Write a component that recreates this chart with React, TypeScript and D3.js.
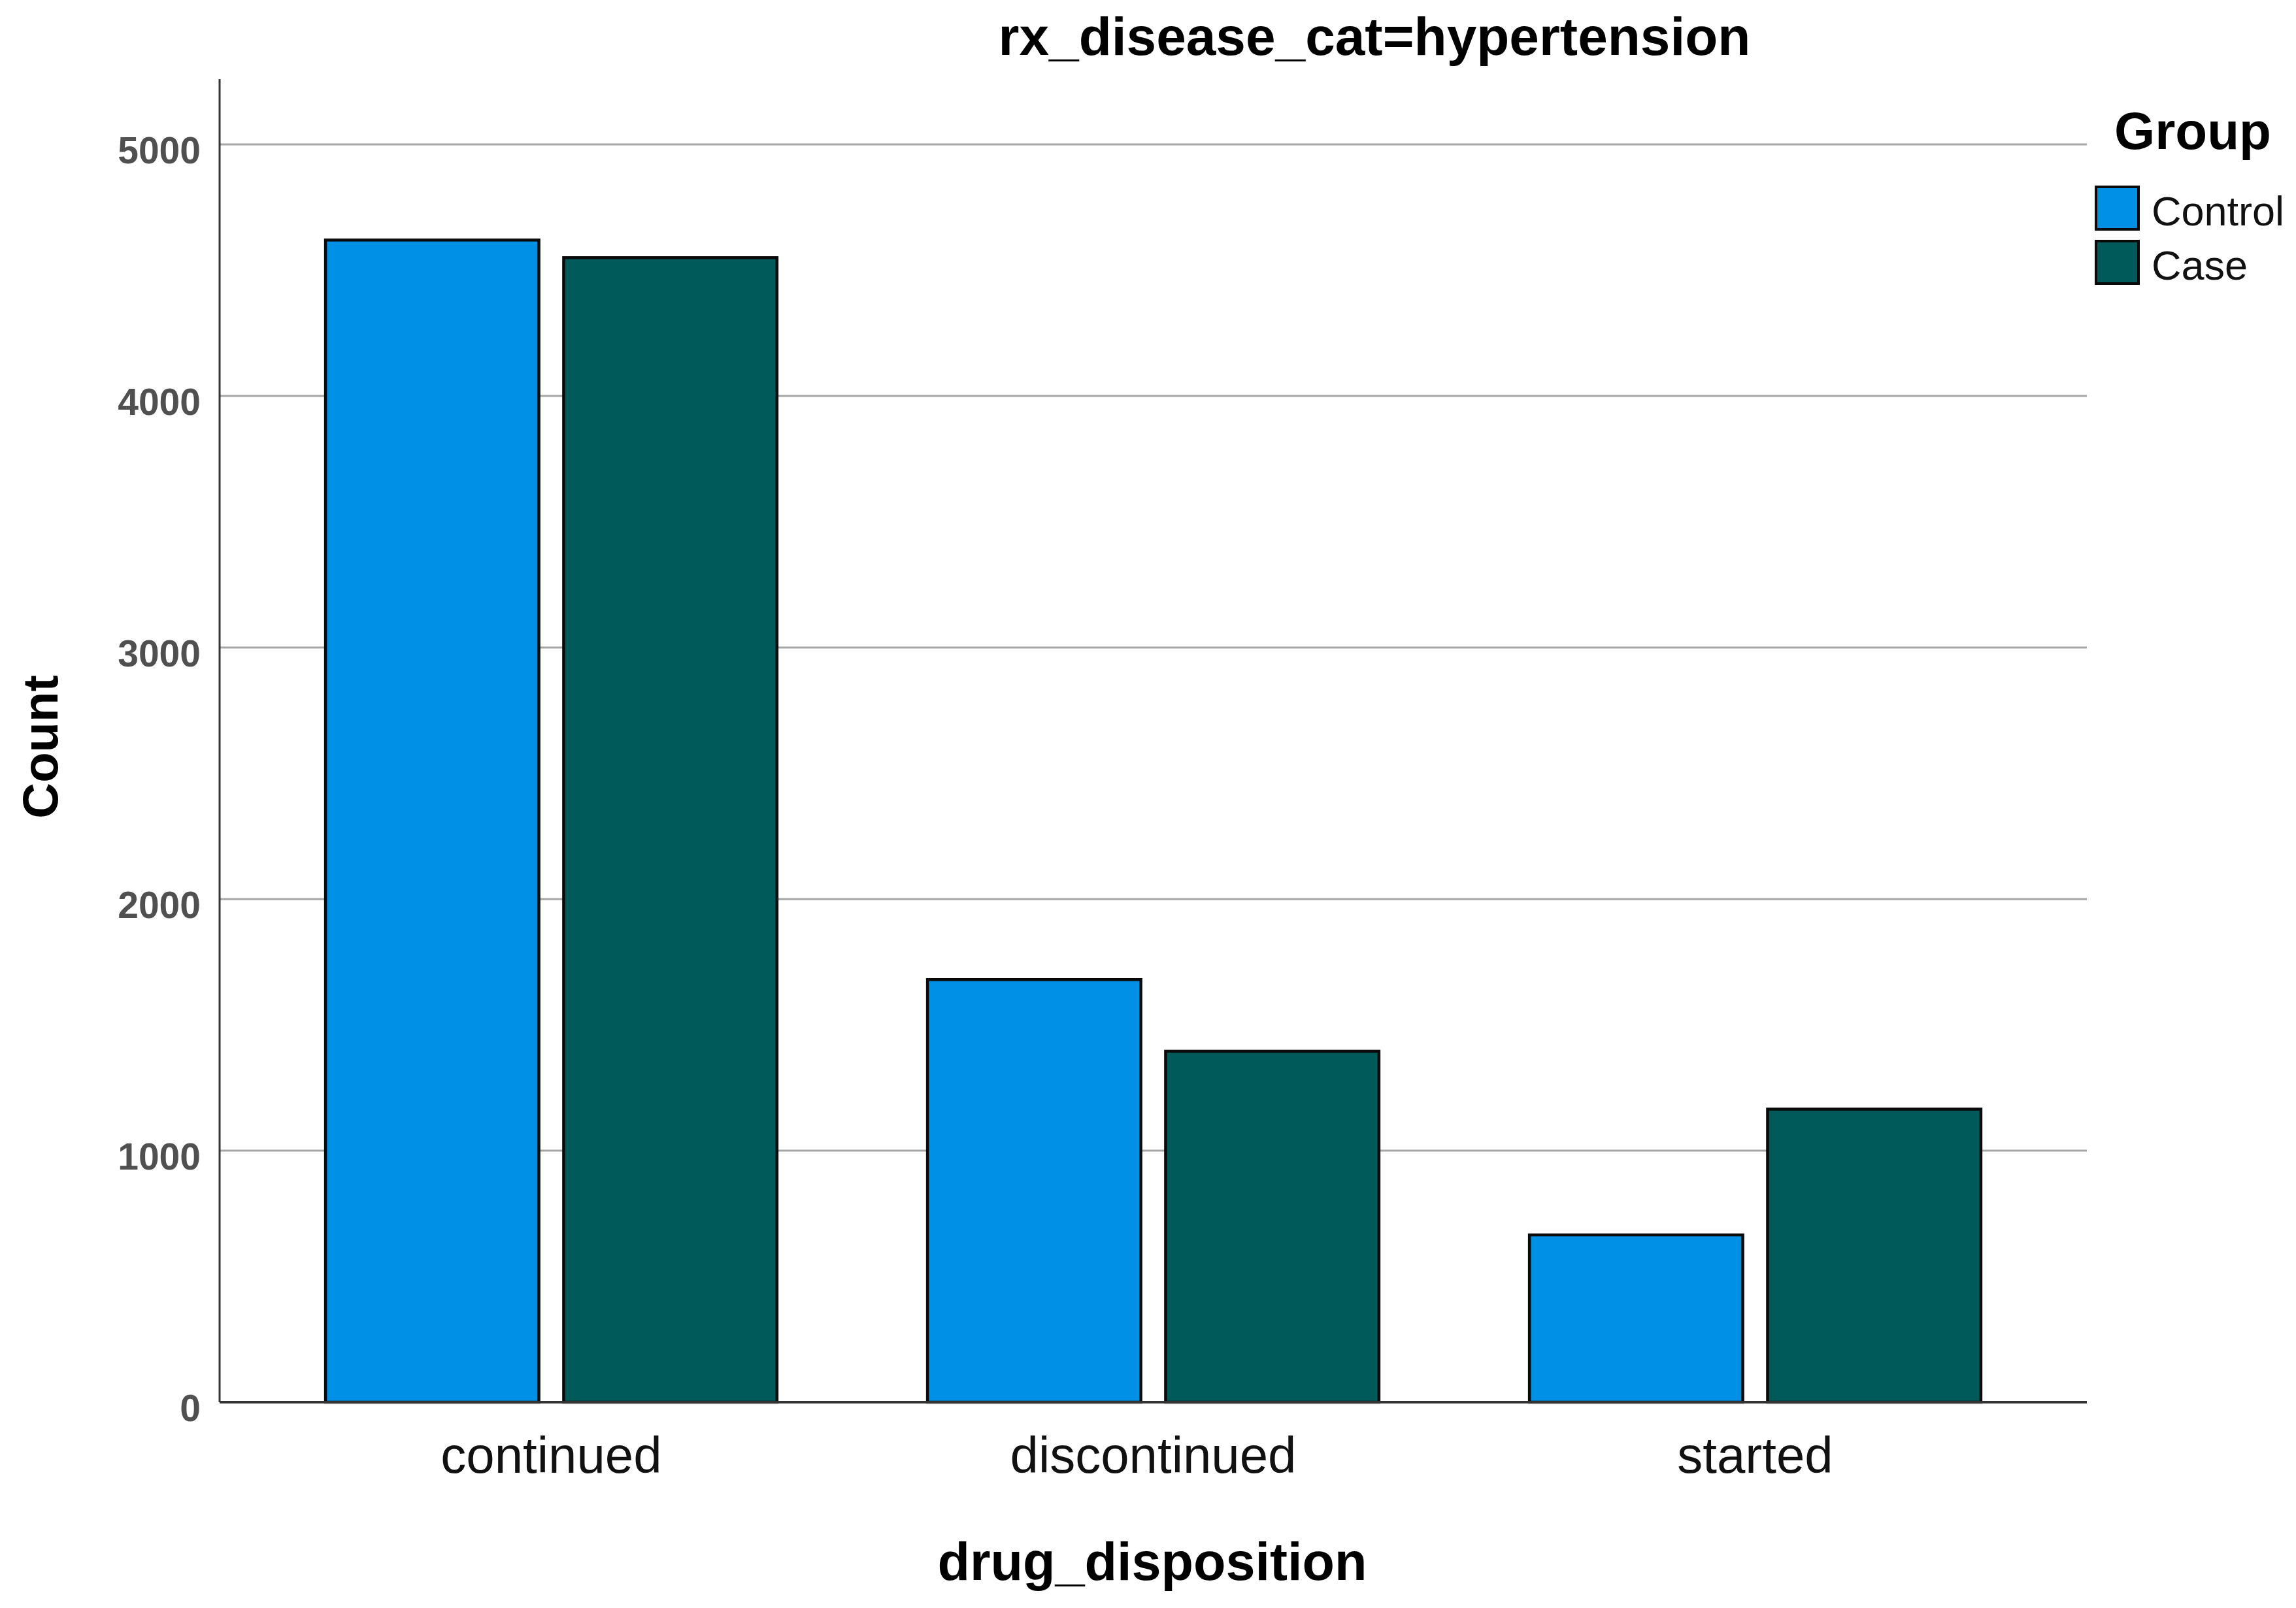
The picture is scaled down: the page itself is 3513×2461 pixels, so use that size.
import React, {useEffect, useRef} from "react";
import * as d3 from "d3";

// chart data
const categories = ["continued", "discontinued", "started"];
const groups = ["Control", "Case"];
const controlCounts = [4620, 1680, 665];
const caseCounts = [4550, 1395, 1165];
const yTicks = [0, 1000, 2000, 3000, 4000, 5000];
const groupColors = ["#0091E6", "#015A5A"];

const WIDTH = 3513;
const HEIGHT = 2461;
const FONT = "'Liberation Sans', Arial, sans-serif";

function drawChart(node: SVGSVGElement) {
  const svg = d3.select(node);
  svg.selectAll("*").remove();

  const left = 336,
    right = 3193,
    top = 121,
    bottom = 2146;

  // Scales
  const x = d3
    .scaleBand<string>()
    .domain(categories)
    .range([left, right])
    .paddingInner(0.25)
    .paddingOuter(0.176);
  const xSub = d3
    .scaleBand<string>()
    .domain(groups)
    .range([0, x.bandwidth()])
    .paddingInner(0.104);
  const y = d3.scaleLinear().domain([0, 5260]).range([bottom, top]);
  const color = d3.scaleOrdinal<string>().domain(groups).range(groupColors);

  // Gridlines
  svg
    .append("g")
    .selectAll("line")
    .data(yTicks.filter((d) => d > 0))
    .enter()
    .append("line")
    .attr("x1", left)
    .attr("x2", right)
    .attr("y1", (d) => y(d))
    .attr("y2", (d) => y(d))
    .attr("stroke", "#a6a6a6")
    .attr("stroke-width", 3);

  // Bars
  const rows = categories.map((c, i) => ({
    category: c,
    values: [
      {group: "Control", value: controlCounts[i]},
      {group: "Case", value: caseCounts[i]},
    ],
  }));

  svg
    .append("g")
    .selectAll("g")
    .data(rows)
    .enter()
    .append("g")
    .attr("transform", (d) => `translate(${x(d.category)},0)`)
    .selectAll("rect")
    .data((d) => d.values)
    .enter()
    .append("rect")
    .attr("x", (d) => xSub(d.group)!)
    .attr("y", (d) => y(d.value))
    .attr("width", xSub.bandwidth())
    .attr("height", (d) => y(0) - y(d.value))
    .attr("fill", (d) => color(d.group))
    .attr("stroke", "#0a0a0a")
    .attr("stroke-width", 4.5);

  // Y axis
  const yAxis = svg
    .append("g")
    .attr("transform", `translate(${left},0)`)
    .call(
      d3
        .axisLeft(y)
        .tickValues(yTicks)
        .tickFormat(d3.format("d"))
        .tickSize(0)
        .tickPadding(29)
    );
  yAxis.select(".domain").remove();
  yAxis
    .selectAll("text")
    .attr("dy", "0.5em")
    .attr("font-family", FONT)
    .attr("font-size", 57)
    .attr("font-weight", "bold")
    .attr("fill", "#505050");
  svg
    .append("line")
    .attr("x1", left)
    .attr("x2", left)
    .attr("y1", top)
    .attr("y2", bottom)
    .attr("stroke", "#333")
    .attr("stroke-width", 3);

  // X axis
  const xAxis = svg
    .append("g")
    .attr("transform", `translate(0,${bottom})`)
    .call(d3.axisBottom(x).tickSize(0).tickPadding(53));
  xAxis.select(".domain").remove();
  xAxis
    .selectAll("text")
    .attr("font-family", FONT)
    .attr("font-size", 78)
    .attr("fill", "#111");
  svg
    .append("line")
    .attr("x1", left)
    .attr("x2", right)
    .attr("y1", bottom)
    .attr("y2", bottom)
    .attr("stroke", "#333")
    .attr("stroke-width", 4);

  // Titles
  svg
    .append("text")
    .attr("x", 2103)
    .attr("y", 84)
    .attr("text-anchor", "middle")
    .attr("font-family", FONT)
    .attr("font-weight", "bold")
    .attr("font-size", 82)
    .text("rx_disease_cat=hypertension");

  svg
    .append("text")
    .attr("x", 1763)
    .attr("y", 2418)
    .attr("text-anchor", "middle")
    .attr("font-family", FONT)
    .attr("font-weight", "bold")
    .attr("font-size", 81)
    .text("drug_disposition");

  svg
    .append("text")
    .attr("transform", "translate(88,1143) rotate(-90)")
    .attr("text-anchor", "middle")
    .attr("font-family", FONT)
    .attr("font-weight", "bold")
    .attr("font-size", 76)
    .text("Count");

  // Legend
  const legend = svg.append("g");
  legend
    .append("text")
    .attr("x", 3235)
    .attr("y", 228)
    .attr("font-family", FONT)
    .attr("font-weight", "bold")
    .attr("font-size", 80)
    .text("Group");

  const items = legend
    .selectAll("g")
    .data(groups)
    .enter()
    .append("g")
    .attr("transform", (d, i) => `translate(3207,${286 + i * 83})`);
  items
    .append("rect")
    .attr("width", 65)
    .attr("height", 65)
    .attr("fill", (d) => color(d))
    .attr("stroke", "#0a0a0a")
    .attr("stroke-width", 4);
  items
    .append("text")
    .attr("x", 85)
    .attr("y", 59)
    .attr("font-family", FONT)
    .attr("font-size", 63)
    .attr("fill", "#111")
    .text((d) => d);
}

export default function App() {
  const ref = useRef<SVGSVGElement>(null);

  useEffect(() => {
    if (ref.current) drawChart(ref.current);
  }, []);

  return (
    <svg
      ref={ref}
      width={WIDTH}
      height={HEIGHT}
      style={{position: "absolute", left: 0, top: 0, background: "#fff"}}
    />
  );
}
